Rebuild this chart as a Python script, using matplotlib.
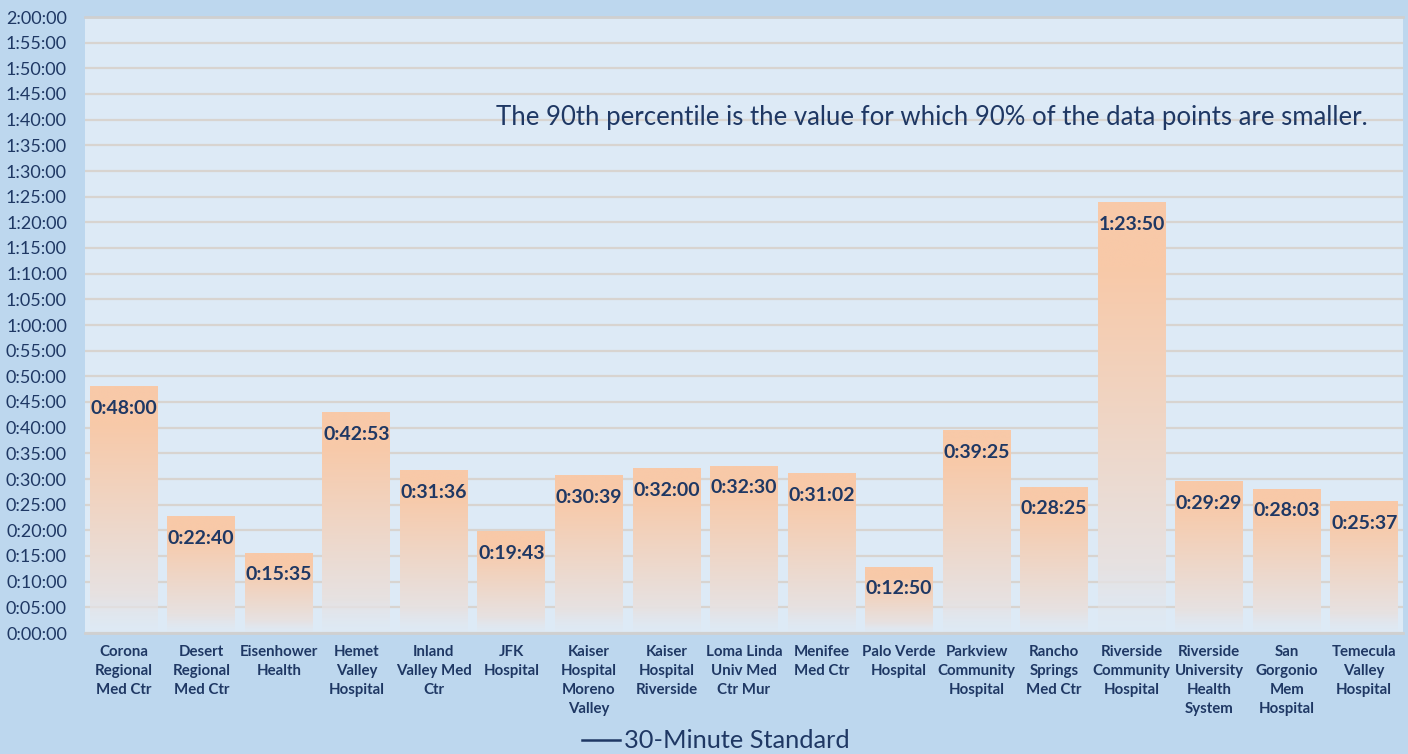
import matplotlib
matplotlib.use("Agg")
import matplotlib.pyplot as plt
import numpy as np
from matplotlib.lines import Line2D
from matplotlib.colors import to_rgb

categories = [
    "Corona\nRegional\nMed Ctr", "Desert\nRegional\nMed Ctr", "Eisenhower\nHealth",
    "Hemet\nValley\nHospital", "Inland\nValley Med\nCtr", "JFK\nHospital",
    "Kaiser\nHospital\nMoreno\nValley", "Kaiser\nHospital\nRiverside",
    "Loma Linda\nUniv Med\nCtr Mur", "Menifee\nMed Ctr", "Palo Verde\nHospital",
    "Parkview\nCommunity\nHospital", "Rancho\nSprings\nMed Ctr",
    "Riverside\nCommunity\nHospital", "Riverside\nUniversity\nHealth\nSystem",
    "San\nGorgonio\nMem\nHospital", "Temecula\nValley\nHospital",
]
times = ["0:48:00", "0:22:40", "0:15:35", "0:42:53", "0:31:36", "0:19:43",
         "0:30:39", "0:32:00", "0:32:30", "0:31:02", "0:12:50", "0:39:25",
         "0:28:25", "1:23:50", "0:29:29", "0:28:03", "0:25:37"]
note = "The 90th percentile is the value for which 90% of the data points are smaller."
legend_label = "30-Minute Standard"

def to_sec(t):
    h, m, s = (int(p) for p in t.split(":"))
    return h * 3600 + m * 60 + s

def fmt(sec):
    sec = int(round(sec))
    return f"{sec // 3600}:{(sec % 3600) // 60:02d}:{sec % 60:02d}"

values = [to_sec(t) for t in times]

plt.rcParams['font.family'] = ['Lato', 'DejaVu Sans']
navy = "#1F3864"
outer_bg = "#BDD7EE"
plot_bg = "#DDEAF6"

fig = plt.figure(figsize=(14.08, 7.54), dpi=100, facecolor=outer_bg)
ax = fig.add_axes([85 / 1408, 1 - 633 / 754, (1403 - 85) / 1408, (633 - 17) / 754])
ax.set_facecolor(plot_bg)

ymax = 7200
yt = np.arange(0, ymax + 1, 300)
ax.set_yticks(yt)
ax.set_yticklabels([fmt(v) for v in yt], fontsize=13, color=navy)
ax.yaxis.grid(True, color="#D8D4D0", linewidth=1.6, zorder=0)
ax.set_axisbelow(True)
ax.tick_params(axis='y', length=0, pad=13)
ax.tick_params(axis='x', length=0, pad=9)
ax.set_xticks(range(len(categories)))
ax.set_xticklabels(categories, fontsize=10.8, fontweight='bold', color=navy,
                   linespacing=1.45, va='top')
for s in ['left', 'right']:
    ax.spines[s].set_visible(False)
for s in ['top', 'bottom']:
    ax.spines[s].set_color("#D0D0D0")
    ax.spines[s].set_linewidth(2)

top_c = np.array(to_rgb("#F8C9A8"))
bot_c = np.array(to_rgb("#E3E7EE"))
width = 0.875
n = 256
for i, v in enumerate(values):
    t = np.linspace(0, 1, n)[:, None]
    w = np.clip((t - 0.15) / 0.85, 0, 1) ** 1.0
    rgb = top_c * (1 - w) + bot_c * w
    alpha = np.where(t > 0.85, 1 - (t - 0.85) / 0.15 * 0.9, 1.0)
    img = np.concatenate([rgb, alpha], axis=1)[:, None, :]
    ax.imshow(img, extent=[i - width / 2, i + width / 2, 0, v], aspect='auto',
              origin='upper', zorder=2, interpolation='bilinear')
    ax.annotate(times[i], (i, v), xytext=(0, -15.5), textcoords='offset points',
                ha='center', va='center', fontsize=14, fontweight='bold',
                color=navy, zorder=3)
ax.set_xlim(-0.5, len(categories) - 0.5)
ax.set_ylim(0, ymax)

ax.text(0.973, 0.837, note, transform=ax.transAxes, ha='right', va='center',
        fontsize=18.5, color=navy)

handle = Line2D([0], [0], color=navy, linewidth=1.8)
fig.legend([handle], [legend_label], loc='center', bbox_to_anchor=(716 / 1408, 1 - 741 / 754),
           frameon=False, fontsize=18.3, labelcolor=navy, handlelength=1.5,
           handletextpad=0.15, borderpad=0)

fig.savefig("out.png", dpi=100, facecolor=outer_bg)
